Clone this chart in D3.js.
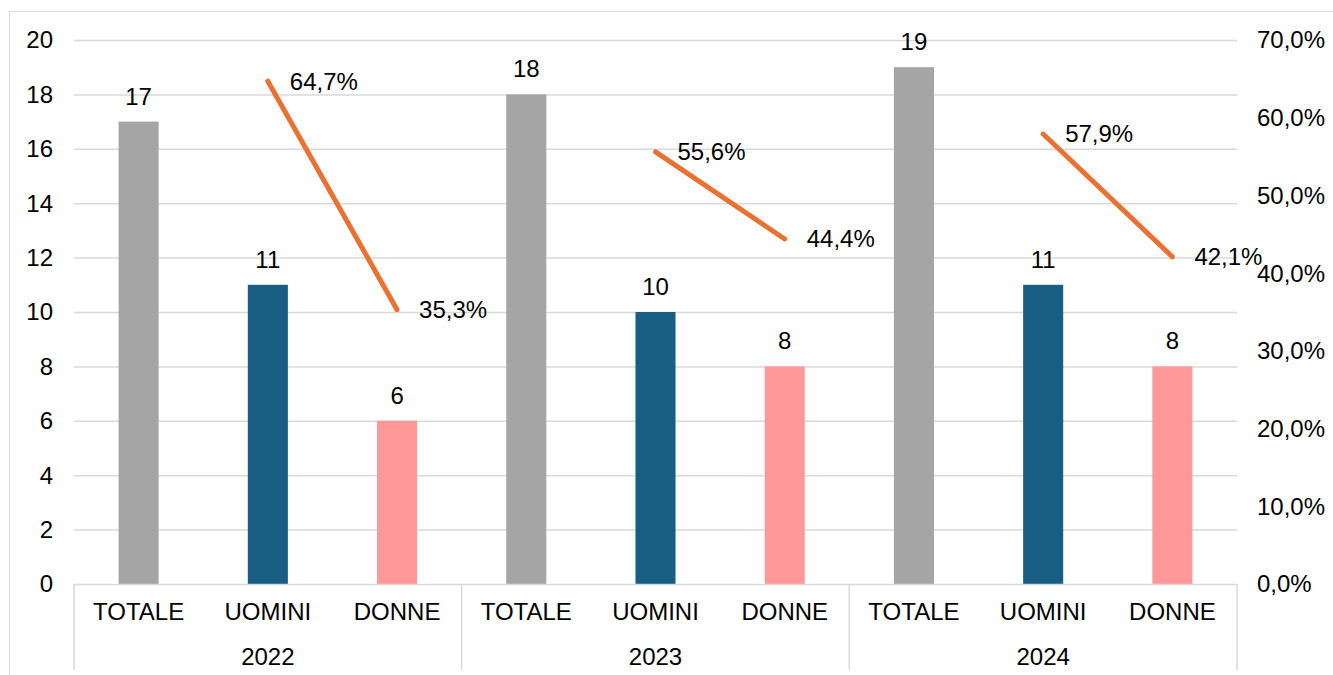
<!DOCTYPE html>
<html>
<head>
<meta charset="utf-8">
<script src="https://cdn.jsdelivr.net/npm/d3@7"></script>
<style>
  body { margin: 0; background: #fff; }
  svg { font-family: "Liberation Sans", Arial, sans-serif; font-size: 24px; }
</style>
</head>
<body>
<svg id="chart" width="1333" height="675"></svg>
<script>
// Dati
const anni = ["2022", "2023", "2024"]
const categorie = ["TOTALE", "UOMINI", "DONNE"]
const totale = [17, 18, 19]
const uomini = [11, 10, 11]
const donne = [6, 8, 8]
const percUomini = [0.647, 0.556, 0.579]
const percDonne = [0.353, 0.444, 0.421]
const ticksSx = [0, 2, 4, 6, 8, 10, 12, 14, 16, 18, 20]
const ticksDx = [0, 0.1, 0.2, 0.3, 0.4, 0.5, 0.6, 0.7]

const colori = { TOTALE: "#a5a5a5", UOMINI: "#175e82", DONNE: "#ff9999" }
const arancio = "#e97132"
const griglia = "#d9d9d9"

const it = d3.formatLocale({ decimal: ",", thousands: ".", grouping: [3], currency: ["€", ""] })
const fmtPct = it.format(".1%")

// righe piatte per le barre
const righe = []
anni.forEach((a, i) => {
    const vals = [totale[i], uomini[i], donne[i]]
    categorie.forEach((c, j) => righe.push({ anno: a, cat: c, key: a + "|" + c, value: vals[j] }))
})

const mSx = 74, mDx = 1237, mTop = 40, mBot = 584

const svg = d3.select("#chart")

// bordo esterno
svg.append("rect").attr("x", 9.5).attr("y", 11.5).attr("width", 1330).attr("height", 670)
    .attr("fill", "none").attr("stroke", griglia)

const x = d3.scaleBand().domain(righe.map(d => d.key)).range([mSx, mDx])
    .paddingInner(0.69).paddingOuter(0.345)
const y = d3.scaleLinear().domain([0, 20]).range([mBot, mTop])
const y2 = d3.scaleLinear().domain([0, 0.7]).range([mBot, mTop])
const xa = d3.scaleBand().domain(anni).range([mSx, mDx])

// griglia
svg.append("g").selectAll("line").data(ticksSx.slice(1)).join("line")
    .attr("x1", mSx).attr("x2", mDx)
    .attr("y1", d => y(d) + 0.5).attr("y2", d => y(d) + 0.5)
    .attr("stroke", griglia).attr("stroke-width", 1.5)

// asse sinistro
svg.append("g").selectAll("text").data(ticksSx).join("text")
    .attr("x", 53).attr("y", d => y(d)).attr("dy", "0.35em")
    .attr("text-anchor", "end").text(d => d)

// asse destro
svg.append("g").selectAll("text").data(ticksDx).join("text")
    .attr("x", 1257).attr("y", d => y2(d)).attr("dy", "0.35em")
    .text(d => fmtPct(d))

// barre
svg.append("g").selectAll("rect").data(righe).join("rect")
    .attr("x", d => x(d.key)).attr("width", x.bandwidth())
    .attr("y", d => y(d.value)).attr("height", d => y(0) - y(d.value))
    .attr("fill", d => colori[d.cat])

svg.append("g").selectAll("text").data(righe).join("text")
    .attr("x", d => x(d.key) + x.bandwidth() / 2).attr("y", d => y(d.value) - 17)
    .attr("text-anchor", "middle").text(d => d.value)

// asse categorie
const ax = svg.append("g")
ax.append("line").attr("x1", mSx).attr("x2", mDx).attr("y1", mBot + 0.5).attr("y2", mBot + 0.5)
    .attr("stroke", griglia).attr("stroke-width", 1.5)
ax.selectAll("line.sep").data(anni.concat(["fine"])).join("line").attr("class", "sep")
    .attr("x1", (d, i) => i < anni.length ? xa(d) : mDx)
    .attr("x2", (d, i) => i < anni.length ? xa(d) : mDx)
    .attr("y1", mBot).attr("y2", 670)
    .attr("stroke", griglia).attr("stroke-width", 1.5)
ax.selectAll("text.cat").data(righe).join("text").attr("class", "cat")
    .attr("x", d => x(d.key) + x.bandwidth() / 2).attr("y", 620)
    .attr("text-anchor", "middle").text(d => d.cat)
ax.selectAll("text.anno").data(anni).join("text").attr("class", "anno")
    .attr("x", d => xa(d) + xa.bandwidth() / 2).attr("y", 665)
    .attr("text-anchor", "middle").text(d => d)

// linea percentuali (interrotta per anno)
const punti = anni.map((a, i) => [
    { key: a + "|UOMINI", v: percUomini[i] },
    { key: a + "|DONNE", v: percDonne[i] }
])
const linea = d3.line().x(d => x(d.key) + x.bandwidth() / 2).y(d => y2(d.v))

svg.append("g").selectAll("path").data(punti).join("path")
    .attr("d", linea).attr("fill", "none").attr("stroke", arancio)
    .attr("stroke-width", 5).attr("stroke-linecap", "round")

svg.append("g").selectAll("text").data(punti.flat()).join("text")
    .attr("x", d => x(d.key) + x.bandwidth() / 2 + 22).attr("y", d => y2(d.v))
    .attr("dy", "0.35em").text(d => fmtPct(d.v))
</script>
</body>
</html>
